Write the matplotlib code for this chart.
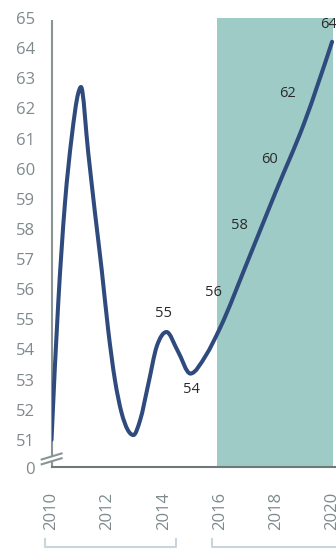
import numpy as np
import matplotlib
matplotlib.use('Agg')
import matplotlib.pyplot as plt
from matplotlib.path import Path
from matplotlib.patches import PathPatch
import matplotlib.transforms as mtransforms

# points (year, value)
curve_x = [2010.0, 2010.24, 2010.48, 2010.72, 2010.955, 2011.05, 2011.31,
           2011.55, 2011.79, 2012.02, 2012.26, 2012.5, 2012.92, 2013.16,
           2013.45, 2013.75, 2014.1, 2014.5, 2014.95, 2015.5,
           2016.0, 2017.0, 2018.0, 2019.0, 2020.0]
curve_y = [51.0, 55.54, 58.86, 61.05, 62.51, 62.71, 60.52,
           58.53, 56.64, 54.65, 52.99, 51.89, 51.16, 51.66,
           52.85, 54.1, 54.58, 53.95, 53.2, 53.8,
           54.7, 56.95, 59.25, 61.5, 64.21]

label_text = ['55', '54', '56', '58', '60', '62', '64']
label_x = [2014.0, 2015.0, 2015.77, 2016.7, 2017.76, 2018.41, 2019.87]
label_y = [55.2, 52.66, 55.88, 58.1, 60.29, 62.51, 64.77]

y_ticks = list(range(51, 66))
x_ticks = [2010, 2012, 2014, 2016, 2018, 2020]
shade_span = (2015.9, 2020.04)
brackets = [(2009.77, 2014.44), (2015.72, 2020.6)]

plt.rcParams['font.family'] = ['Open Sans', 'DejaVu Sans']

fig = plt.figure(figsize=(3.36, 5.5), dpi=100)
ax = fig.add_axes([0.1533, 0.1509, 0.8467, 0.8164])
ax.set_xlim(2010, 2020.14)
ax.set_ylim(50.1, 65.0)

# shaded band
ax.axvspan(*shade_span, ymin=0, ymax=1, color='#9fcbc6', lw=0, zorder=0)

# monotone cubic through the points, drawn as bezier path
x = np.array(curve_x, dtype=float)
y = np.array(curve_y, dtype=float)
h = np.diff(x)
s = np.diff(y) / h
m = np.zeros_like(y)
for i in range(1, len(x) - 1):
    p = (s[i - 1] * h[i] + s[i] * h[i - 1]) / (h[i - 1] + h[i])
    m[i] = (np.sign(s[i - 1]) + np.sign(s[i])) * min(abs(s[i - 1]), abs(s[i]), 0.5 * abs(p))
m[0] = (3 * s[0] - m[1]) / 2
m[-1] = (3 * s[-1] - m[-2]) / 2
verts = [(x[0], y[0])]
codes = [Path.MOVETO]
for i in range(len(x) - 1):
    d = h[i] / 3
    verts += [(x[i] + d, y[i] + m[i] * d),
              (x[i + 1] - d, y[i + 1] - m[i + 1] * d),
              (x[i + 1], y[i + 1])]
    codes += [Path.CURVE4] * 3
ax.add_patch(PathPatch(Path(verts, codes), fill=False, edgecolor='#2f4a7d',
                       lw=2.9, capstyle='round', joinstyle='round', zorder=3))

for t, lx, ly in zip(label_text, label_x, label_y):
    ax.text(lx, ly, t, ha='center', va='center', fontsize=10.5,
            color='#2a2a2a', zorder=4)

# axes styling
for sp in ['top', 'right', 'left']:
    ax.spines[sp].set_visible(False)
ax.spines['bottom'].set_color('#6f7979')
ax.spines['bottom'].set_linewidth(1.5)

ax.set_yticks(y_ticks)
ax.set_yticklabels([str(t) for t in y_ticks])
ax.set_xticks(x_ticks)
ax.set_xticklabels([str(t) for t in x_ticks], rotation=90)
ax.tick_params(axis='y', length=0, pad=12, labelsize=12, labelcolor='#7f8a8c')
ax.tick_params(axis='x', length=0, pad=18, labelsize=12, labelcolor='#7f8a8c')

# broken y axis
spine_kw = dict(color='#8a9494', lw=1.5, clip_on=False, zorder=2)
ax.plot([2010, 2010], [64.9, 50.47], **spine_kw)
ax.plot([2010, 2010], [50.28, 50.1], **spine_kw)
ax.plot([2009.65, 2010.36], [50.35, 50.55], **spine_kw)
ax.plot([2009.65, 2010.36], [50.19, 50.39], **spine_kw)

zero_tr = mtransforms.offset_copy(ax.get_yaxis_transform(), fig=fig,
                                  x=-12, units='points')
ax.text(0, 50.0, '0', transform=zero_tr, ha='right', va='center',
        fontsize=12, color='#7f8a8c', clip_on=False)

# period brackets under the year labels
btr = ax.get_xaxis_transform()
for x0, x1 in brackets:
    ax.plot([x0, x0, x1, x1], [-0.160, -0.178, -0.178, -0.160], transform=btr,
            color='#c8d5dd', lw=1.5, clip_on=False)

fig.savefig('out.png', dpi=100, facecolor='white')
